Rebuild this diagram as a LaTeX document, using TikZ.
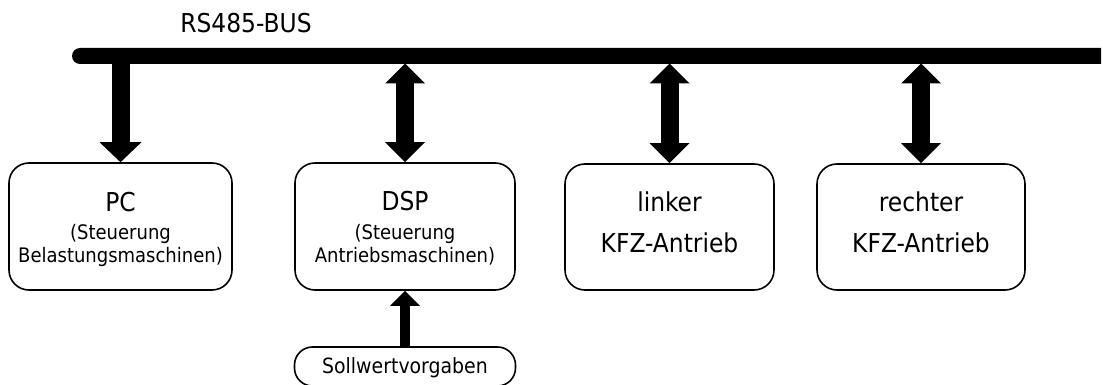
\documentclass[tikz,border=0pt]{standalone}
\usepackage{fontspec}
\setmainfont{DejaVu Sans Condensed}
\usetikzlibrary{arrows.meta}
\tikzset{
  box/.style={draw, line width=0.8pt, rounded corners=10pt, inner sep=0pt},
  pill/.style={draw, line width=0.8pt, rounded corners=9pt, inner sep=0pt, minimum width=110.5pt, minimum height=19.5pt},
  big/.style={font=\fontsize{13}{15}\selectfont, anchor=base, inner sep=0pt},
  small/.style={font=\fontsize{10}{12}\selectfont, anchor=base, inner sep=0pt},
  busarrow/.style={line width=9pt, -{Triangle[width=21pt,length=10pt,line width=0pt]}},
  dblarrow/.style={line width=9pt, {Triangle[width=20pt,length=10pt,line width=0pt]}-{Triangle[width=20pt,length=10pt,line width=0pt]}},
  inarrow/.style={line width=5pt, -{Triangle[width=15pt,length=7.5pt,line width=0pt]}}
}
\begin{document}
\begin{tikzpicture}[x=0.5pt,y=-0.5pt]
\useasboundingbox (0,0) rectangle (1103,385);
% bus
\fill (1101,48) -- (80,48) arc[start angle=90,end angle=270,radius=4pt] -- (1101,64) -- cycle;
\node[big] (buslabel) at (246,33) {RS485-BUS};
% boxes
\node[box, minimum width=111.5pt, minimum height=63.5pt] (pc) at (120.5,226.5) {};
\node[box, minimum width=110pt, minimum height=63.5pt] (dsp) at (405,226.5) {};
\node[box, minimum width=104.5pt, minimum height=63pt] (lk) at (669.5,227) {};
\node[box, minimum width=104pt, minimum height=63pt] (rk) at (921,227) {};
\node[pill] (soll) at (405,366.5) {};
% texts
\node[big] (pct) at (120.5,211) {PC};
\node[small] (pcs1) at (120.5,239) {(Steuerung};
\node[small] (pcs2) at (120.5,262) {Belastungsmaschinen)};
\node[big] (dspt) at (405,210) {DSP};
\node[small] (dsps1) at (405,239) {(Steuerung};
\node[small] (dsps2) at (405,262) {Antriebsmaschinen)};
\node[big] (lkt1) at (669.5,212) {linker};
\node[big] (lkt2) at (669.5,252) {KFZ-Antrieb};
\node[big] (rkt1) at (921,212) {rechter};
\node[big] (rkt2) at (921,252) {KFZ-Antrieb};
\node[font=\fontsize{10.5}{12}\selectfont, anchor=base, inner sep=0pt] (sollt) at (405,373) {Sollwertvorgaben};
% bus taps
\coordinate (tap1) at (120.5,56);
\coordinate (tap2) at (405,63.5);
\coordinate (tap3) at (669.5,63.5);
\coordinate (tap4) at (921,63.5);
% connectors
\draw[busarrow] (tap1) -- (pc.north);
\draw[dblarrow] (tap2) -- (dsp.north);
\draw[dblarrow] (tap3) -- (lk.north);
\draw[dblarrow] (tap4) -- (rk.north);
\draw[inarrow] (soll.north) -- (dsp.south);
\end{tikzpicture}
\end{document}
